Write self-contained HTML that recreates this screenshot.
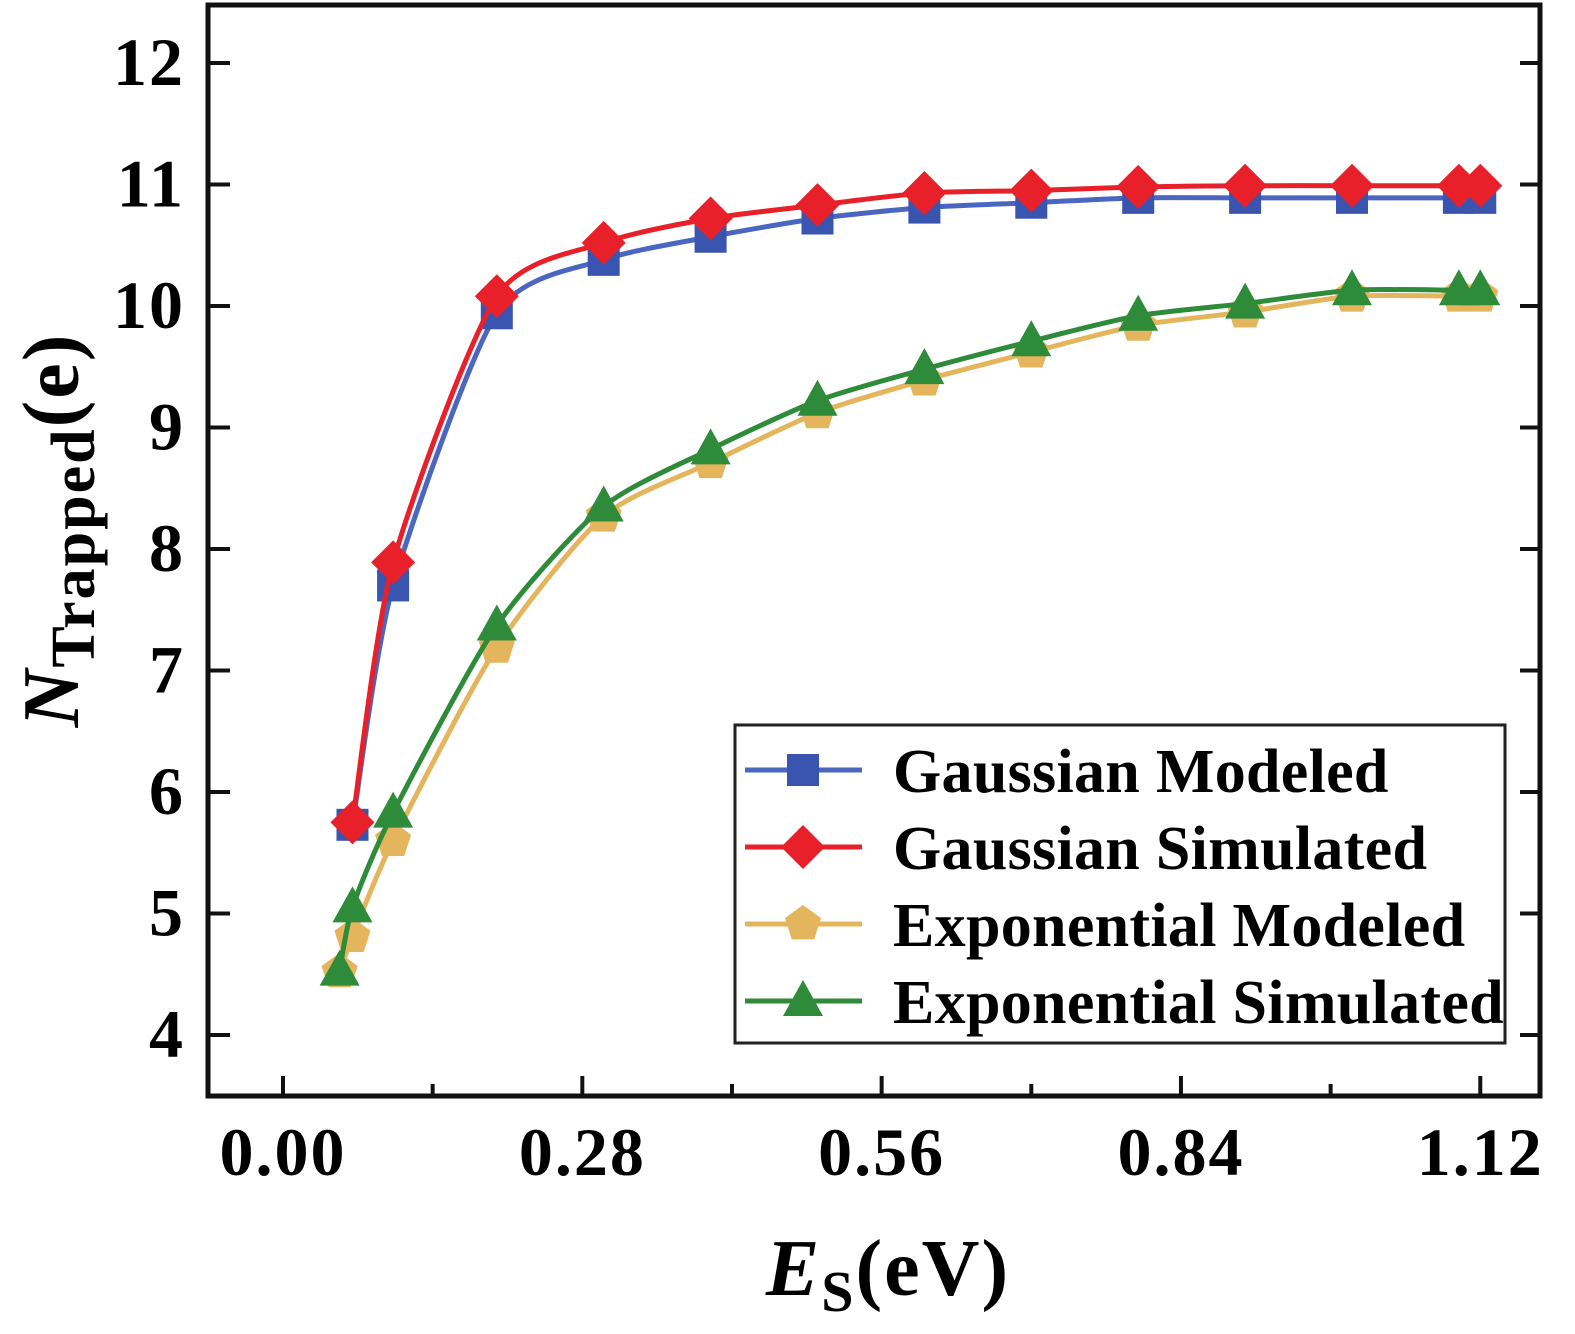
<!DOCTYPE html>
<html><head><meta charset="utf-8"><style>
html,body{margin:0;padding:0;background:#fff;}
svg{display:block;font-family:"Liberation Serif",serif;font-weight:bold;}
</style></head><body>
<svg id="chart" width="1575" height="1334" xmlns="http://www.w3.org/2000/svg">
<rect x="0" y="0" width="1575" height="1334" fill="#fff"/>
<g id="grid"></g>
<g id="series"></g>
<rect x="208" y="5" width="1332" height="1091" fill="none" stroke="#111" stroke-width="5"/>
<text x="888" y="1295" font-size="80" text-anchor="middle" letter-spacing="2"><tspan font-style="italic">E</tspan><tspan font-size="58" dy="16">S</tspan><tspan dy="-16">(eV)</tspan></text>
<text transform="translate(78,530) rotate(-90)" font-size="80" text-anchor="middle" letter-spacing="2"><tspan font-style="italic">N</tspan><tspan font-size="62" dy="16">Trapped</tspan><tspan dy="-16">(e)</tspan></text>
<g>
<rect x="735" y="725" width="770" height="318" fill="#fff" stroke="#222" stroke-width="3"/>
<g id="legend-items"></g>
</g>
</svg>
<script>
const xs=[0.053,0.065,0.103,0.2,0.3,0.4,0.5,0.6,0.7,0.8,0.9,1.0,1.1,1.12];
const gaussModeledX=xs.slice(1);
const gaussModeled=[5.73,7.70,9.94,10.38,10.57,10.72,10.81,10.85,10.89,10.89,10.89,10.89,10.89];
const gaussSimulatedX=xs.slice(1);
const gaussSimulated=[5.75,7.89,10.08,10.52,10.72,10.83,10.93,10.95,10.98,10.99,10.99,10.99,10.99];
const expModeled=[4.52,4.81,5.60,7.19,8.27,8.71,9.12,9.39,9.62,9.84,9.95,10.08,10.08,10.08];
const expSimulated=[4.53,5.05,5.83,7.37,8.35,8.82,9.22,9.48,9.71,9.92,10.02,10.13,10.13,10.13];
const xTicks=[0,0.28,0.56,0.84,1.12];
const xTickLabels=["0.00","0.28","0.56","0.84","1.12"];
const yTicks=[4,5,6,7,8,9,10,11,12];
const legendLabels=["Gaussian Modeled","Gaussian Simulated","Exponential Modeled","Exponential Simulated"];

const NS="http://www.w3.org/2000/svg";
const X=v=>283+v*1069;
const Y=v=>63+(12-v)*121.5;
function el(t,a,p){const e=document.createElementNS(NS,t);for(const k in a)e.setAttribute(k,a[k]);p.appendChild(e);return e;}
const grid=document.getElementById('grid');
xTicks.forEach((t,i)=>{
  const l=el('line',{x1:X(t),x2:X(t),y1:1096,y2:1076,stroke:'#111','stroke-width':4},grid);
  
  
  const tx=el('text',{x:X(t),y:1175,'font-size':68,'text-anchor':'middle','letter-spacing':2},grid);
  tx.textContent=xTickLabels[i];
  
  
  if(i<xTicks.length-1){
    const m=el('line',{x1:X(t+0.14),x2:X(t+0.14),y1:1096,y2:1084,stroke:'#111','stroke-width':4},grid);
    
    
  }
});
yTicks.forEach(t=>{
  const l=el('line',{x1:208,x2:230,y1:Y(t),y2:Y(t),stroke:'#111','stroke-width':4},grid);
  
  
  const l2=el('line',{x1:1540,x2:1520,y1:Y(t),y2:Y(t),stroke:'#111','stroke-width':4},grid);
  
  
  const tx=el('text',{x:185,y:Y(t)+22,'font-size':68,'text-anchor':'end','letter-spacing':2},grid);
  tx.textContent=String(t);
  
  
});
function marker(type,cx,cy,color,p){
  let e;
  if(type==='sq')e=el('rect',{x:cx-16,y:cy-16,width:32,height:32,fill:color},p);
  else if(type==='dia')e=el('polygon',{points:`${cx},${cy-22} ${cx+22},${cy} ${cx},${cy+22} ${cx-22},${cy}`,fill:color},p);
  else if(type==='pent'){let pts=[];for(let k=0;k<5;k++){const a=-Math.PI/2+k*2*Math.PI/5;pts.push((cx+19*Math.cos(a))+','+(cy+19*Math.sin(a)));}e=el('polygon',{points:pts.join(' '),fill:color},p);}
  else e=el('polygon',{points:`${cx},${cy-21} ${cx+20},${cy+15} ${cx-20},${cy+15}`,fill:color},p);
  return e;
}
function smoothPath(P){
  let d='M'+P[0][0]+','+P[0][1];
  for(let i=0;i<P.length-1;i++){
    const p0=P[i-1]||P[i],p1=P[i],p2=P[i+1],p3=P[i+2]||p2;
    const t=0.12;
    const c1=[p1[0]+(p2[0]-p0[0])*t,p1[1]+(p2[1]-p0[1])*t];
    const c2=[p2[0]-(p3[0]-p1[0])*t,p2[1]-(p3[1]-p1[1])*t];
    d+=` C${c1[0]},${c1[1]} ${c2[0]},${c2[1]} ${p2[0]},${p2[1]}`;
  }
  return d;
}
const series=[
 {xs:gaussModeledX,ys:gaussModeled,c:'#3a55b0',lc:'#4a66c0',m:'sq',n:'gaussian-modeled'},
 {xs:gaussSimulatedX,ys:gaussSimulated,c:'#e8202a',lc:'#e8202a',m:'dia',n:'gaussian-simulated'},
 {xs:xs,ys:expModeled,c:'#e5b55e',lc:'#e5b55e',m:'pent',n:'exponential-modeled'},
 {xs:xs,ys:expSimulated,c:'#2e8b3a',lc:'#2e8b3a',m:'tri',n:'exponential-simulated'}
];
const sg=document.getElementById('series');
series.forEach(s=>{
  const g=el('g',{},sg);
  
  
  const P=s.ys.map((v,i)=>[X(s.xs[i]),Y(v)]);
  const pl=el('path',{d:smoothPath(P),fill:'none',stroke:s.lc,'stroke-width':5},g);
  
  
  s.ys.forEach((v,i)=>{
    const mk=marker(s.m,X(s.xs[i]),Y(v),s.c,g);
    
    
  });
});
const lg=document.getElementById('legend-items');
series.forEach((s,i)=>{
  const y=770+i*77;
  const g=el('g',{},lg);
  
  
  el('line',{x1:745,x2:862,y1:y,y2:y,stroke:s.lc,'stroke-width':5},g);
  marker(s.m,803,y,s.c,g);
  const t=el('text',{x:893,y:y+22,'font-size':62,'letter-spacing':0.3},g);
  t.textContent=legendLabels[i];
});
</script>
</body></html>
